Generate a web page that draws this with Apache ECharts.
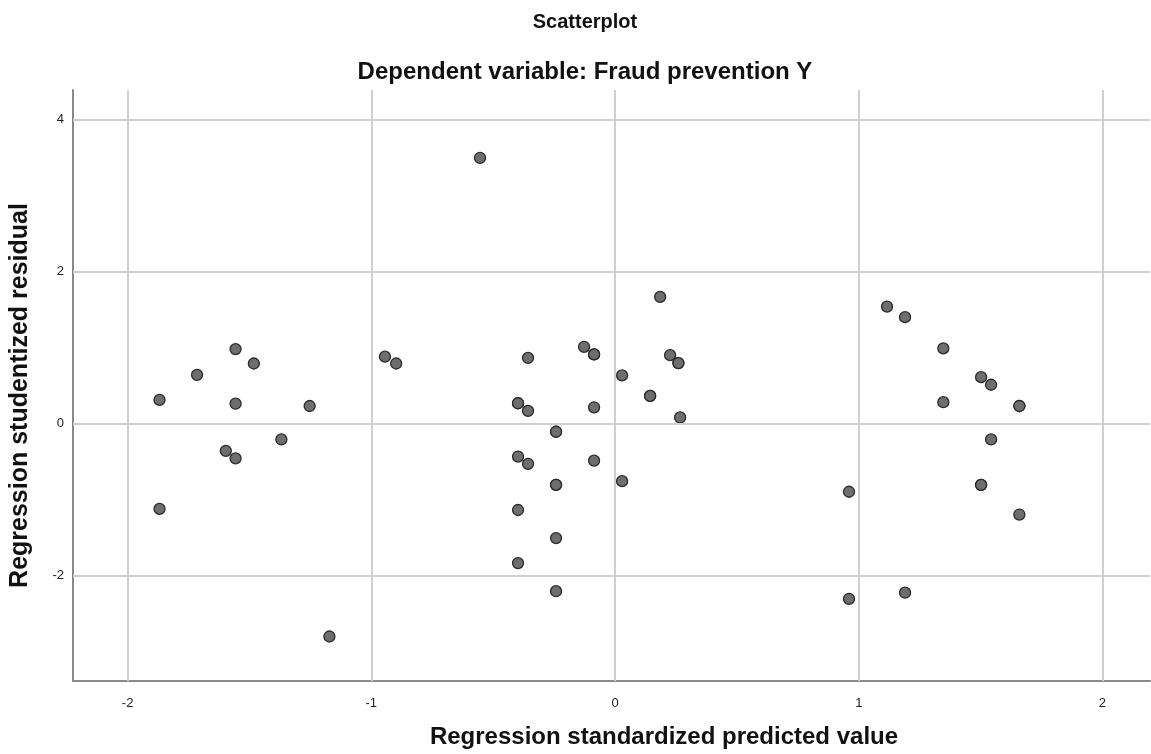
<!DOCTYPE html>
<html>
<head>
<meta charset="utf-8">
<script src="https://cdn.jsdelivr.net/npm/echarts@6/dist/echarts.min.js"></script>
<style>
html,body{margin:0;padding:0;background:#fff;}
#chart{width:1151px;height:754px;}
</style>
</head>
<body>
<div id="chart"></div>
<script>
const titleText = 'Scatterplot';
const subtitleText = 'Dependent variable: Fraud prevention Y';
const xAxisName = 'Regression standardized predicted value';
const yAxisName = 'Regression studentized residual';

const xTicks = [-2, -1, 0, 1, 2];
const yTicks = [-2, 0, 2, 4];

// Regression standardized predicted value
const predicted = [
  -1.869, -1.869, -1.715, -1.557, -1.482, -1.557, -1.597, -1.557, -1.369, -1.253, -1.172, -0.944, -0.898, -0.554,
  0.185, -0.127, -0.086, -0.086, -0.357, 0.226, 0.260, 0.260, 0.029, 0.144, 0.144, -0.398, -0.398, -0.357, -0.086, 0.267,
  -0.242, -0.242, -0.398, -0.357, -0.086, 0.029, -0.242, -0.242, -0.398, -0.242, -0.398, -0.242,
  1.116, 1.190, 1.347, 1.502, 1.543, 1.347, 1.659, 1.659, 1.543, 0.960, 1.502, 1.502, 1.659, 0.960, 1.190
];
// Regression studentized residual
const residual = [
  0.31, -1.126, 0.64, 0.98, 0.79, 0.26, -0.36, -0.46, -0.21, 0.23, -2.807, 0.88, 0.79, 3.50,
  1.667, 1.01, 0.91, 0.91, 0.864, 0.90, 0.795, 0.795, 0.633, 0.363, 0.363, 0.266, 0.266, 0.166, 0.213, 0.079,
  -0.109, -0.109, -0.436, -0.533, -0.489, -0.76, -0.81, -0.81, -1.14, -1.51, -1.84, -2.21,
  1.54, 1.40, 0.99, 0.61, 0.51, 0.28, 0.23, 0.23, -0.21, -0.90, -0.81, -0.81, -1.20, -2.31, -2.23
];

const points = predicted.map((x, i) => [x, residual[i]]);

const FONT = 'Arial, "Liberation Sans", Helvetica, sans-serif';
const GRID_COLOR = '#cfcfcf';

const gridLines = xTicks.map(v => ({xAxis: v})).concat(yTicks.map(v => ({yAxis: v})));

const chart = echarts.init(document.getElementById('chart'), null, {renderer: 'canvas'});
chart.setOption({
  animation: false,
  backgroundColor: '#ffffff',
  title: [
    {
      text: titleText,
      left: 580, top: 7, textAlign: 'center',
      textStyle: {fontFamily: FONT, fontSize: 20, fontWeight: 'bold', color: '#111'}
    },
    {
      text: subtitleText,
      left: 580, top: 55, textAlign: 'center',
      textStyle: {fontFamily: FONT, fontSize: 24, fontWeight: 'bold', color: '#111'}
    }
  ],
  grid: {left: 73, top: 90, width: 1077, height: 595, containLabel: false},
  xAxis: {
    type: 'value',
    min: -2.224, max: 2.195,
    name: xAxisName,
    nameLocation: 'middle',
    nameGap: 44,
    nameTextStyle: {fontFamily: FONT, fontSize: 24, fontWeight: 'bold', color: '#111', padding: [0, 0, 0, 105]},
    axisLine: {show: true, onZero: false, lineStyle: {color: '#8a8a8a', width: 2}},
    axisTick: {show: false, customValues: xTicks},
    axisLabel: {
      customValues: xTicks, margin: 16,
      fontFamily: FONT, fontSize: 13, color: '#222'
    },
    splitLine: {show: false}
  },
  yAxis: {
    type: 'value',
    min: -3.393, max: 4.393,
    name: yAxisName,
    nameLocation: 'middle',
    nameGap: 40,
    nameRotate: 90,
    nameTextStyle: {fontFamily: FONT, fontSize: 25, fontWeight: 'bold', color: '#111', padding: [0, 20, 0, 0]},
    axisLine: {show: true, onZero: false, lineStyle: {color: '#8a8a8a', width: 2}},
    axisTick: {show: false, customValues: yTicks},
    axisLabel: {
      customValues: yTicks, margin: 9,
      fontFamily: FONT, fontSize: 13, color: '#222'
    },
    splitLine: {show: false}
  },
  series: [
    {
      type: 'scatter',
      data: [],
      z: 1,
      silent: true,
      markLine: {
        silent: true,
        symbol: 'none',
        animation: false,
        label: {show: false},
        lineStyle: {color: GRID_COLOR, width: 2, type: 'solid'},
        emphasis: {disabled: true},
        data: gridLines
      }
    },
    {
      type: 'scatter',
      data: points,
      z: 3,
      symbol: 'circle',
      symbolSize: 11,
      itemStyle: {color: '#6e6e6e', borderColor: '#2a2a2a', borderWidth: 1.3, opacity: 1},
      emphasis: {disabled: true}
    }
  ]
});
</script>
</body>
</html>
